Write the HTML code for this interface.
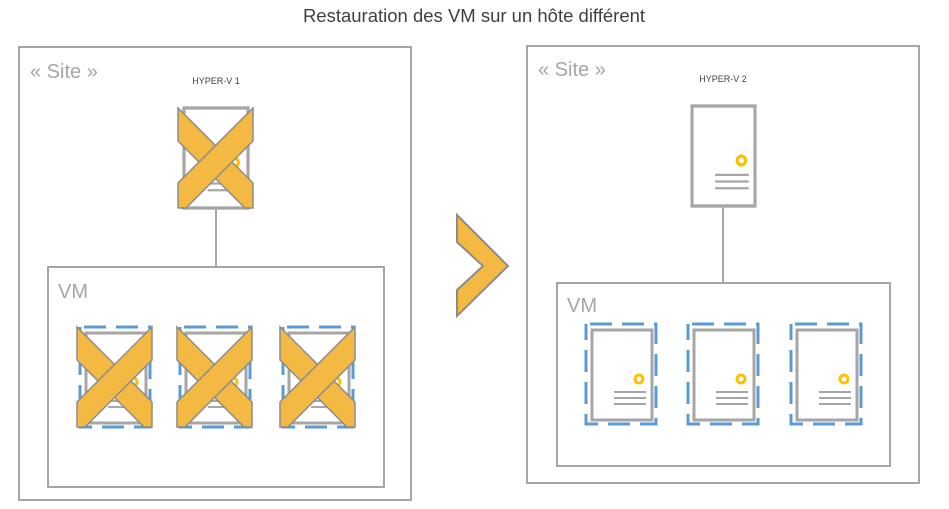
<!DOCTYPE html>
<html><head><meta charset="utf-8"><style>
html,body{margin:0;padding:0;background:#fff;}
svg{display:block;font-family:"Liberation Sans",sans-serif;}
</style></head><body>
<svg width="949" height="509" viewBox="0 0 949 509" xmlns="http://www.w3.org/2000/svg">
<defs>
<g id="srv">
  <rect x="0" y="0" width="60" height="90" fill="#fff" stroke="#a6a6a6" stroke-width="3"/>
  <circle cx="47" cy="49" r="4" fill="#fff" stroke="#ffc000" stroke-width="3"/>
  <line x1="22" y1="62" x2="54" y2="62" stroke="#a6a6a6" stroke-width="2"/>
  <line x1="22" y1="68" x2="54" y2="68" stroke="#a6a6a6" stroke-width="2"/>
  <line x1="22" y1="74" x2="54" y2="74" stroke="#a6a6a6" stroke-width="2"/>
</g>
<g id="vm">
  <rect x="0" y="0" width="70" height="100" fill="none" stroke="#5b9bd5" stroke-width="3" stroke-dasharray="22 10" stroke-dashoffset="-4"/>
  <use href="#srv" x="6" y="6"/>
</g>
<g id="x">
  <polygon points="0,0 75,75 75,100 67,100 0,33" fill="#f4b942" stroke="#8c8c8c" stroke-width="1.5"/>
  <polygon points="75,0 0,75 0,100 8,100 75,33" fill="#f4b942" stroke="#8c8c8c" stroke-width="1.5"/>
</g>
</defs>
<text x="474" y="22" font-size="18.5" fill="#404040" text-anchor="middle">Restauration des VM sur un hôte différent</text>

<rect x="19" y="47" width="392" height="453" fill="#fff" stroke="#a6a6a6" stroke-width="2"/>
<text x="30" y="78" font-size="20" fill="#a6a6a6">« Site »</text>
<text x="216" y="84" font-size="9" fill="#404040" text-anchor="middle">HYPER-V 1</text>
<line x1="216" y1="208" x2="216" y2="267" stroke="#a6a6a6" stroke-width="2"/>
<g transform="translate(184,108) scale(1.067,1.111)"><use href="#srv"/></g>
<use href="#x" x="178" y="108"/>
<rect x="48" y="267" width="336" height="220" fill="#fff" stroke="#a6a6a6" stroke-width="2"/>
<text x="58" y="298" font-size="20" fill="#a6a6a6">VM</text>
<use href="#vm" x="80" y="327"/>
<use href="#vm" x="180" y="327"/>
<use href="#vm" x="283" y="327"/>
<use href="#x" x="77" y="327"/>
<use href="#x" x="177" y="327"/>
<use href="#x" x="280" y="327"/>

<polygon points="457,215 508,266 457,316 457,290 483,266 457,242" fill="#f4b942" stroke="#8c8c8c" stroke-width="2"/>

<rect x="527" y="46" width="392" height="437" fill="#fff" stroke="#a6a6a6" stroke-width="2"/>
<text x="538" y="76" font-size="20" fill="#a6a6a6">« Site »</text>
<text x="723" y="82" font-size="9" fill="#404040" text-anchor="middle">HYPER-V 2</text>
<line x1="723" y1="206" x2="723" y2="283" stroke="#a6a6a6" stroke-width="2"/>
<g transform="translate(692,106) scale(1.05,1.111)"><use href="#srv"/></g>
<rect x="557" y="283" width="333" height="183" fill="#fff" stroke="#a6a6a6" stroke-width="2"/>
<text x="567" y="312" font-size="20" fill="#a6a6a6">VM</text>
<use href="#vm" x="586" y="324"/>
<use href="#vm" x="688" y="324"/>
<use href="#vm" x="791" y="324"/>
</svg>
</body></html>
